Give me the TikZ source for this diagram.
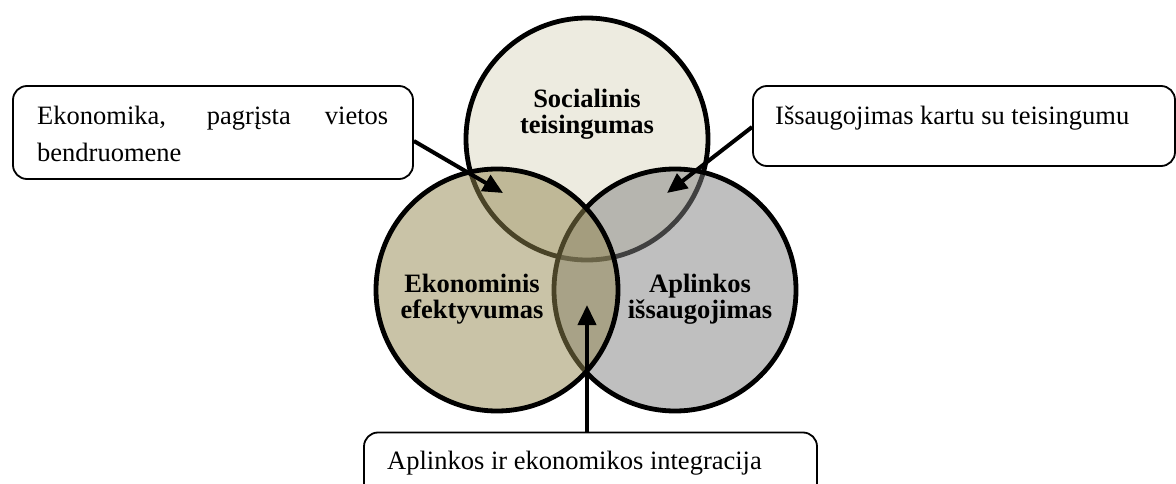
\documentclass[tikz,border=0pt]{standalone}
\usepackage{fontspec}
\setmainfont{Liberation Serif}
\usetikzlibrary{arrows.meta,calc}
\definecolor{topfill}{RGB}{237,235,224}
\definecolor{leftfill}{RGB}{147,135,79}
\definecolor{rightfill}{RGB}{128,128,128}
\hbadness=10000
\begin{document}
\begin{tikzpicture}[x=1pt,y=-1pt,
  venn/.style={circle, draw=black, line width=4.8pt, minimum size=242pt, inner sep=0pt},
  callout/.style={rectangle, draw=black, line width=1.8pt, rounded corners=14pt, inner sep=0pt},
  arr/.style={line width=4pt, -{Triangle[length=20pt,width=18pt]}},
  ctext/.style={font=\fontsize{26.5}{26}\selectfont\bfseries, align=center, inner sep=0pt},
  btext/.style={font=\fontsize{26.5}{36.7}\selectfont, inner sep=0pt}]
\useasboundingbox (0,0) rectangle (1176,484);
\clip (0,0) rectangle (1176,484);
% circles (back to front)
\node[venn, fill=topfill] (soc) at (587,139) {};
\node[venn, fill=rightfill, fill opacity=0.5] (apl) at (675,290) {};
\node[venn, fill=leftfill, fill opacity=0.5] (eko) at (497,290) {};
% circle labels
\node[ctext] (socT) at (587,114) {Socialinis\\teisingumas};
\node[ctext] (ekoT) at (472,299.5) {Ekonominis\\efektyvumas};
\node[ctext] (aplT) at (700,299.5) {Aplinkos\\išsaugojimas};
% callout boxes
\node[callout, minimum width=400pt, minimum height=93pt] (lbox) at (213,132.5) {};
\node[callout, minimum width=422pt, minimum height=80pt] (rbox) at (964,126) {};
\node[callout, minimum width=453pt, minimum height=93pt] (bbox) at (590.5,479) {};
% callout texts
\node[btext, anchor=base west, text width=351pt, align=justify] (lT) at (37,125) {Ekonomika, pagrįsta vietos \mbox{bendruomene}};
\node[btext, anchor=base west] (rT) at (775,125) {Išsaugojimas kartu su teisingumu};
\node[btext, anchor=base west] (bT) at (387,469) {Aplinkos ir ekonomikos integracija};
% arrow tips
\coordinate (tipL) at (503,193);
\coordinate (tipR) at (667,193);
\coordinate (tipB) at (587,305);
\draw[arr] ($(lbox.east)+(0,8.5)$) -- (tipL);
\draw[arr] ($(rbox.west)+(0,1)$) -- (tipR);
\draw[arr] (bbox.north -| tipB) -- (tipB);
\end{tikzpicture}
\end{document}
